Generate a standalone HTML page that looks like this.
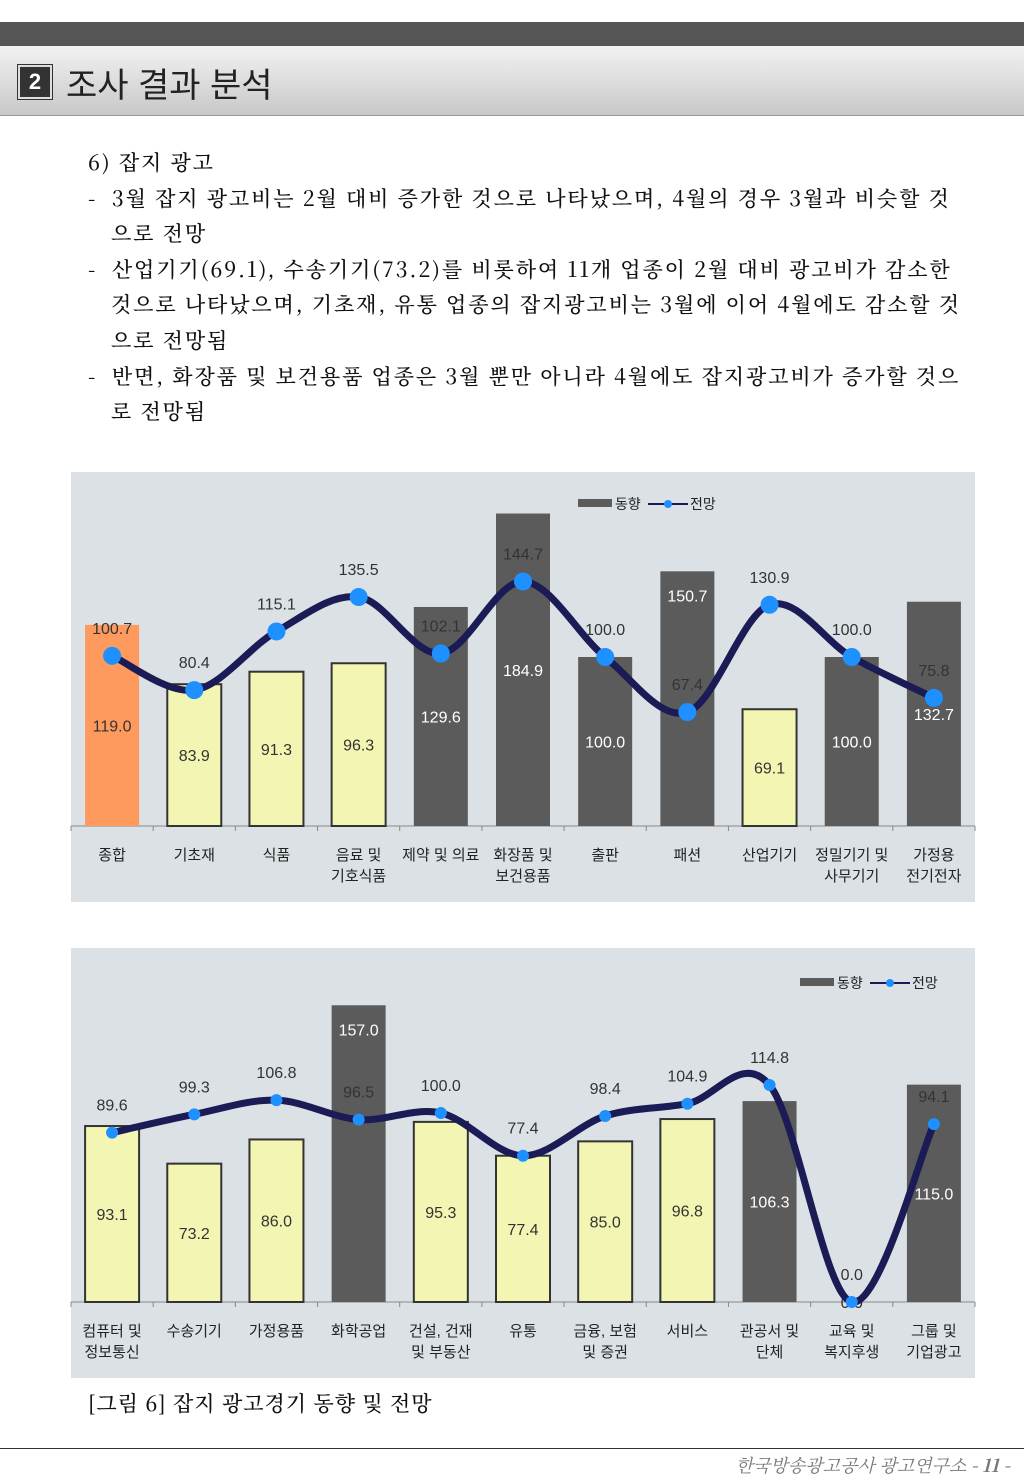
<!DOCTYPE html>
<html><head><meta charset="utf-8">
<style>
body{margin:0;width:1024px;height:1479px;background:#fff;position:relative;overflow:hidden;font-family:"Noto Serif CJK SC","Liberation Serif",serif;}
.abs{position:absolute;}
.txt{font-size:21px;letter-spacing:1.9px;font-weight:500;color:#111;line-height:35.6px;white-space:nowrap;}
</style></head><body>
<div class="abs" style="left:0;top:22px;width:1024px;height:24px;background:#555;"></div>
<div class="abs" style="left:0;top:46px;width:1024px;height:69px;background:linear-gradient(#f2f2f2,#c8c8c8);border-bottom:1px solid #999;"></div>
<div class="abs" style="left:18px;top:65px;width:30px;height:30px;background:#333;border:2px solid #ddd;outline:1px solid #333;color:#fff;font:bold 22px 'Liberation Sans',sans-serif;text-align:center;line-height:30px;">2</div>
<div class="abs" style="left:66px;top:58px;font-size:34px;color:#222;font-family:'Liberation Sans','Noto Sans CJK KR',sans-serif;">조사 결과 분석</div>
<div class="abs txt" style="left:88px;top:145px;">
<div>6) 잡지 광고</div>
<div>-&nbsp;&nbsp;3월 잡지 광고비는 2월 대비 증가한 것으로 나타났으며, 4월의 경우 3월과 비슷할 것</div>
<div style="padding-left:23px">으로 전망</div>
<div>-&nbsp;&nbsp;산업기기(69.1), 수송기기(73.2)를 비롯하여 11개 업종이 2월 대비 광고비가 감소한</div>
<div style="padding-left:23px">것으로 나타났으며, 기초재, 유통 업종의 잡지광고비는 3월에 이어 4월에도 감소할 것</div>
<div style="padding-left:23px">으로 전망됨</div>
<div>-&nbsp;&nbsp;반면, 화장품 및 보건용품 업종은 3월 뿐만 아니라 4월에도 잡지광고비가 증가할 것으</div>
<div style="padding-left:23px">로 전망됨</div>
</div>
<svg class="abs" style="left:0;top:0" width="1024" height="1479" id="svg"></svg>
<div class="abs" style="left:88px;top:1388px;font-size:21px;font-weight:500;letter-spacing:1px;color:#111;">[그림 6] 잡지 광고경기 동향 및 전망</div>
<div class="abs" style="left:0;top:1448px;width:1024px;height:1px;background:#333;"></div>
<div class="abs" style="right:14px;top:1452px;font-size:18px;font-style:italic;color:#777;">한국방송광고공사 광고연구소 <b>- 11 -</b></div>
<script>
const cats1=["종합","기초재","식품","음료 및|기호식품","제약 및 의료","화장품 및|보건용품","출판","패션","산업기기","정밀기기 및|사무기기","가정용|전기전자"];
const trend1=[119.0,83.9,91.3,96.3,129.6,184.9,100.0,150.7,69.1,100.0,132.7];
const outlook1=[100.7,80.4,115.1,135.5,102.1,144.7,100.0,67.4,130.9,100.0,75.8];
const cats2=["컴퓨터 및|정보통신","수송기기","가정용품","화학공업","건설, 건재|및 부동산","유통","금융, 보험|및 증권","서비스","관공서 및|단체","교육 및|복지후생","그룹 및|기업광고"];
const trend2=[93.1,73.2,86.0,157.0,95.3,77.4,85.0,96.8,106.3,0.0,115.0];
const outlook2=[89.6,99.3,106.8,96.5,100.0,77.4,98.4,104.9,114.8,0.0,94.1];
const NS="http://www.w3.org/2000/svg";
const svg=document.getElementById('svg');
function mk(t,a,p){const e=document.createElementNS(NS,t);for(const k in a)e.setAttribute(k,a[k]);(p||svg).appendChild(e);return e;}
function chart(top,base,scale,cats,trend,outlook,r,legX,legY,first){
  const g=mk('g',{});
  
  
  const bg=mk('rect',{x:71,y:top,width:904,height:430,fill:'#dce1e5'},g);
  
  
  const n=cats.length,w=904/n,x0=71;
  const xc=i=>x0+w*i+w/2, y=v=>base-v*scale;
  mk('line',{x1:71,x2:975,y1:base,y2:base,stroke:'#888'},g);
  for(let i=0;i<=n;i++)mk('line',{x1:x0+w*i,x2:x0+w*i,y1:base,y2:base+5,stroke:'#888'},g);
  trend.forEach((v,i)=>{
    const fill=(first&&i==0)?'#ff9a5e':(v>=100?'#5b5b5b':'#f3f6b2');
    const stroke=(v<100&&!(first&&i==0))?'#333':'none';
    const b=mk('rect',{x:xc(i)-27,y:y(v),width:54,height:v*scale,fill:fill,stroke:stroke,'stroke-width':2},g);
    
    
    const ly=(v>145&&v<170)?y(v)+30:y(v/2)+6;
    const t=mk('text',{x:xc(i),y:ly,'text-anchor':'middle','font-size':16,'font-family':'Liberation Sans,sans-serif',fill:v>=100&&!(first&&i==0)?'#fff':'#333'},g);
    t.textContent=v.toFixed(1);
  });
  const pts=outlook.map((v,i)=>[xc(i),y(v)]);
  let d='M'+pts[0][0]+','+pts[0][1];
  for(let i=0;i<pts.length-1;i++){
    const p0=pts[Math.max(0,i-1)],p1=pts[i],p2=pts[i+1],p3=pts[Math.min(pts.length-1,i+2)];
    d+=` C${p1[0]+(p2[0]-p0[0])/6},${p1[1]+(p2[1]-p0[1])/6} ${p2[0]-(p3[0]-p1[0])/6},${p2[1]-(p3[1]-p1[1])/6} ${p2[0]},${p2[1]}`;
  }
  const ln=mk('path',{d:d,fill:'none',stroke:'#1b1b55','stroke-width':7,'stroke-linecap':'round'},g);
  
  
  pts.forEach((p,i)=>{
    const c=mk('circle',{cx:p[0],cy:p[1],r:r,fill:'#1e90ff'},g);
    
    
    const t=mk('text',{x:p[0],y:p[1]-22,'text-anchor':'middle','font-size':16,'font-family':'Liberation Sans,sans-serif',fill:'#333'},g);
    t.textContent=outlook[i].toFixed(1);
  });
  cats.forEach((c,i)=>{
    c.split('|').forEach((s,j)=>{
      const t=mk('text',{x:xc(i),y:base+34+j*21,'text-anchor':'middle','font-size':15,'font-family':'Liberation Sans,Noto Sans CJK KR,sans-serif',fill:'#222'},g);
      t.textContent=s;
    });
  });
  const lg=mk('g',{},g);
  
  
  mk('rect',{x:legX,y:legY-5,width:34,height:8,fill:'#5b5b5b'},lg);
  const t1=mk('text',{x:legX+37,y:legY+5,'font-size':14,'font-family':'Liberation Sans,Noto Sans CJK KR,sans-serif',fill:'#222'},lg);t1.textContent='동향';
  mk('line',{x1:legX+70,x2:legX+110,y1:legY,y2:legY,stroke:'#1b1b55','stroke-width':2},lg);
  mk('circle',{cx:legX+90,cy:legY,r:4,fill:'#1e90ff'},lg);
  const t2=mk('text',{x:legX+112,y:legY+5,'font-size':14,'font-family':'Liberation Sans,Noto Sans CJK KR,sans-serif',fill:'#222'},lg);t2.textContent='전망';
}
chart(472,826,1.69,cats1,trend1,outlook1,9,578,504,true);
chart(948,1302,1.89,cats2,trend2,outlook2,6,800,983,false);
</script>
</body></html>
